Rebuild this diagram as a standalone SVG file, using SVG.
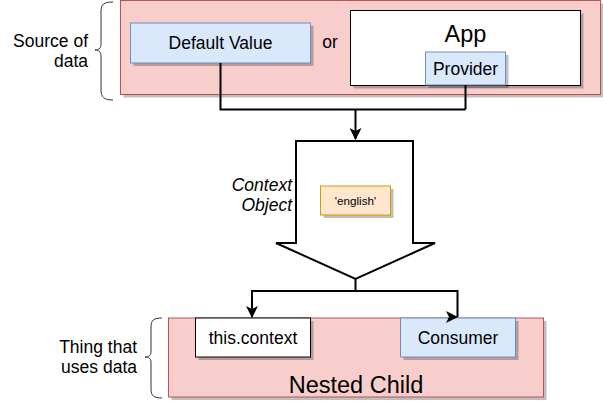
<svg xmlns="http://www.w3.org/2000/svg" width="603" height="401" viewBox="0 0 603 401">
<style>
text{font-family:"Liberation Sans",Arial,sans-serif;fill:#000}
.t{font-size:17.5px;text-anchor:middle}
.lbl{font-size:17.5px;text-anchor:end}
.big{font-size:23.5px;text-anchor:middle}
.sh{fill:#000;opacity:0.25}
.red{fill:#f8cecc;stroke:#b85450;stroke-width:1}
.blue{fill:#dae8fc;stroke:#6c8ebf;stroke-width:1}
.white{fill:#fff;stroke:#000;stroke-width:1}
.org{fill:#ffe6cc;stroke:#d79b00;stroke-width:1}
.c{fill:none;stroke:#000;stroke-width:2}
.br{fill:none;stroke:#333;stroke-width:1}
</style>
<defs>
<marker id="ar" viewBox="0 0 12 12" refX="11" refY="6" markerWidth="6" markerHeight="6" orient="auto" markerUnits="strokeWidth">
<path d="M0,0 L12,6 L0,12 L3,6 Z" fill="#000"/>
</marker>
</defs>

<g id="source-label">
<text class="lbl" x="88" y="46.5">Source of</text>
<text class="lbl" x="88" y="66.5">data</text>
<path class="br" d="M113,2 C104,2 101,4 101,12 V44 C101,48 99,50 95,50 C99,50 101,52 101,56 V90 C101,97 104,100 113,100"/>
</g>

<g id="source-box">
<rect class="sh" x="123.5" y="3.5" width="480" height="94"/>
<rect class="red" x="120.5" y="0.5" width="480" height="94"/>
</g>

<g id="default-value">
<rect class="sh" x="133.5" y="26" width="180" height="40"/>
<rect class="blue" x="130.5" y="23" width="180" height="40"/>
<text class="t" x="220.5" y="49">Default Value</text>
</g>

<g id="or-label">
<text class="t" x="330" y="48">or</text>
</g>

<g id="app">
<rect class="sh" x="353.5" y="13.5" width="230" height="75"/>
<rect class="white" x="350.5" y="10.5" width="230" height="75"/>
<text class="big" x="465.5" y="41.5">App</text>
</g>

<g id="provider">
<rect class="sh" x="428.5" y="55" width="80" height="33"/>
<rect class="blue" x="425.5" y="52" width="80" height="33"/>
<text class="t" x="465.5" y="75">Provider</text>
</g>

<g id="context-object">
<polygon points="296,141 413,141 413,243 435,243 355.5,279 276,243 296,243" fill="#fff" stroke="#000" stroke-width="2" stroke-linejoin="miter"/>
<text class="lbl" x="292" y="190.5" font-style="italic">Context</text>
<text class="lbl" x="292" y="211" font-style="italic">Object</text>
</g>

<g id="english">
<rect class="sh" x="323.5" y="189" width="70" height="29"/>
<rect class="org" x="320.5" y="186" width="70" height="29"/>
<text x="355.5" y="204.5" font-size="11.7px" text-anchor="middle">'english'</text>
</g>

<g id="uses-label">
<text class="lbl" x="137" y="353">Thing that</text>
<text class="lbl" x="137" y="373">uses data</text>
<path class="br" d="M162,318 C154,318 151,320 151,327 V352 C151,355 149,357 145,357 C149,357 151,359 151,362 V389 C151,396 154,398 162,398"/>
</g>

<g id="nested-child">
<rect class="sh" x="171.5" y="321" width="375" height="79"/>
<rect class="red" x="168.5" y="318" width="375" height="79"/>
<text class="big" x="356" y="393">Nested Child</text>
</g>

<g id="this-context">
<rect class="sh" x="198.5" y="321" width="115" height="39"/>
<rect class="white" x="195.5" y="318" width="115" height="39"/>
<text class="t" x="253" y="343.5">this.context</text>
</g>

<g id="consumer">
<rect class="sh" x="403.5" y="321" width="115" height="39"/>
<rect class="blue" x="400.5" y="318" width="115" height="39"/>
<text class="t" x="458" y="343.5">Consumer</text>
</g>

<g id="connectors">
<path class="c" d="M220.5,63 V109.5 H465.5"/>
<path class="c" d="M465.5,85 V109.5"/>
<path class="c" d="M355.5,109.5 V139" marker-end="url(#ar)"/>
<path class="c" d="M355.5,279 V291 H252 V317" marker-end="url(#ar)"/>
<path class="c" d="M355.5,291 H457.5 V317"/>
<path d="M446,311 L458,317 L446,323 L449,317 Z" fill="#000"/>
</g>
</svg>
